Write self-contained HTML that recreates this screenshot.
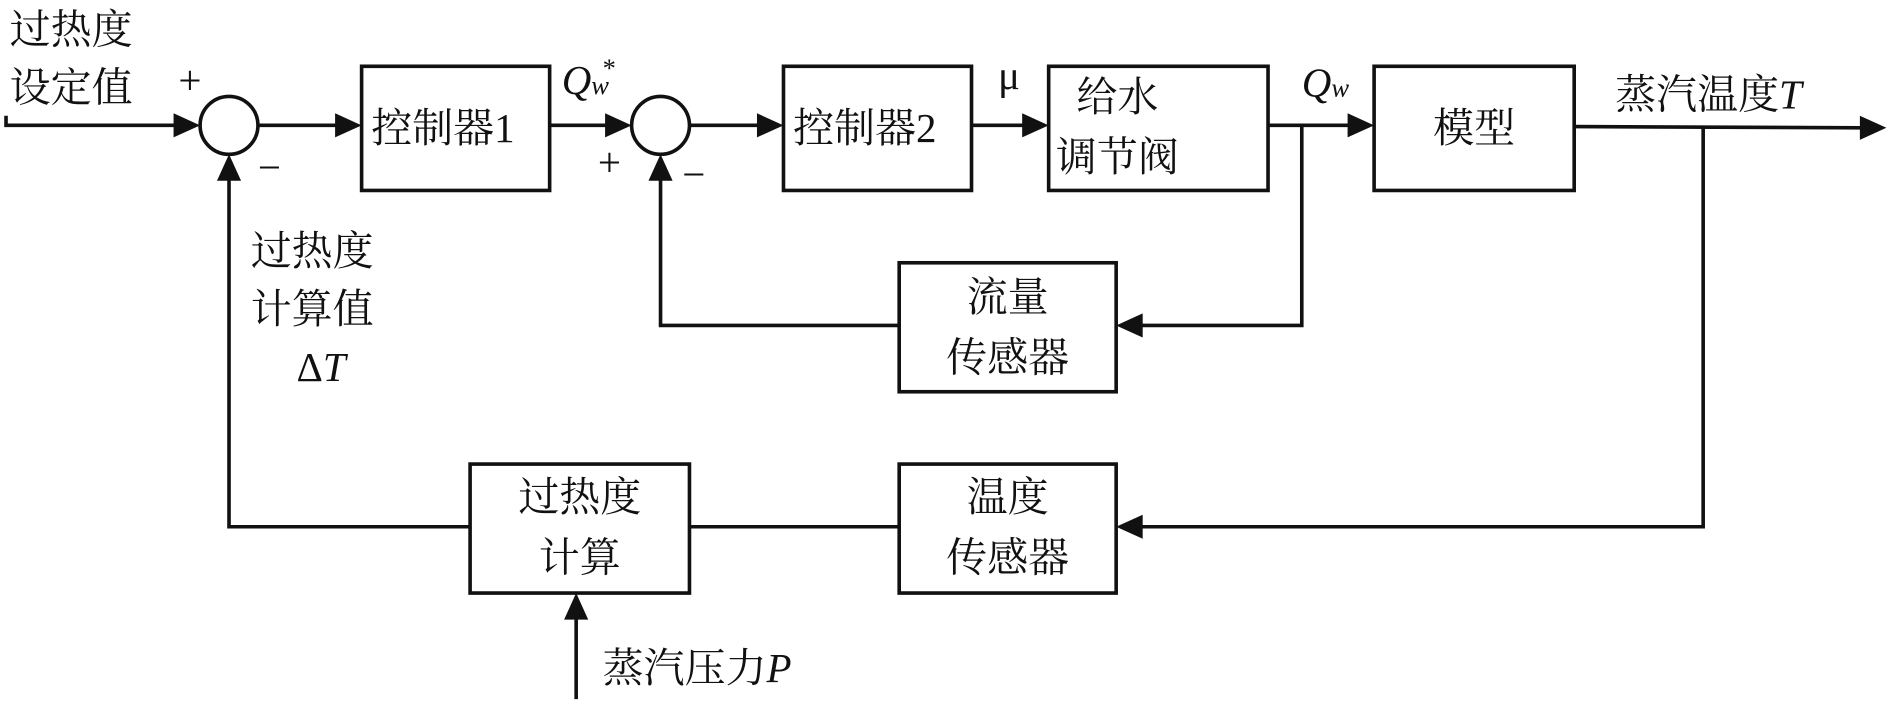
<!DOCTYPE html>
<html><head><meta charset="utf-8"><style>html,body{margin:0;padding:0;background:#fff}svg{display:block}</style></head><body>
<svg width="1890" height="716" viewBox="0 0 1568 594" preserveAspectRatio="none" xmlns="http://www.w3.org/2000/svg">
<defs><marker id="a" markerWidth="10" markerHeight="10" refX="9" refY="5" orient="auto" markerUnits="userSpaceOnUse"><path d="M0,0 L0,0"/></marker></defs>
<g fill="none" stroke="#111" stroke-width="3">
<circle cx="190" cy="104" r="24"/>
<circle cx="548" cy="104" r="24"/>
<rect x="300" y="55" width="156" height="103"/>
<rect x="650" y="55" width="156" height="103"/>
<rect x="870" y="55" width="182" height="103"/>
<rect x="1140" y="55" width="166" height="103"/>
<rect x="746" y="218" width="180" height="107"/>
<rect x="746" y="385" width="180" height="107"/>
<rect x="390" y="385" width="182" height="107"/>
<polyline points="5,96 5,104 148,104"/>
<line x1="214" y1="104" x2="282" y2="104"/>
<line x1="456" y1="104" x2="506" y2="104"/>
<line x1="572" y1="104" x2="632" y2="104"/>
<line x1="806" y1="104" x2="852" y2="104"/>
<line x1="1052" y1="104" x2="1122" y2="104"/>
<line x1="1306" y1="105" x2="1545" y2="106"/>
<polyline points="1080,104 1080,270 946,270"/>
<polyline points="746,270 548,270 548,148"/>
<polyline points="1413,105 1413,437 946,437"/>
<line x1="746" y1="437" x2="572" y2="437"/>
<polyline points="390,437 190,437 190,148"/>
<line x1="478" y1="580" x2="478" y2="512"/>
</g>
<g fill="#111">
<polygon points="166,104 144,94 144,114"/>
<polygon points="300,104 278,94 278,114"/>
<polygon points="524,104 502,94 502,114"/>
<polygon points="650,104 628,94 628,114"/>
<polygon points="870,104 848,94 848,114"/>
<polygon points="1140,104 1118,94 1118,114"/>
<polygon points="1565,106 1543,96 1543,116"/>
<polygon points="926,270 948,260 948,280"/>
<polygon points="926,437 948,427 948,447"/>
<polygon points="548,128 538,150 558,150"/>
<polygon points="190,128 180,150 200,150"/>
<polygon points="478,492 468,514 488,514"/>
</g>
<g font-family="Liberation Serif, 'Noto Serif CJK SC', serif" font-size="34" fill="#111">
<text x="8" y="36">过热度</text>
<text x="8" y="84">设定值</text>
<text x="148" y="78">+</text>
<text x="214" y="150">−</text>
<text x="208" y="220">过热度</text>
<text x="208" y="268">计算值</text>
<text x="246" y="316">Δ<tspan font-style="italic">T</tspan></text>
<text x="308" y="118">控制器1</text>
<text x="658" y="118">控制器2</text>
<text x="466" y="78" font-style="italic">Q<tspan font-size="22">w</tspan></text>
<text x="500" y="64" font-size="22">*</text>
<text x="496" y="146">+</text>
<text x="566" y="156">−</text>
<text x="828" y="74">μ</text>
<text x="927" y="92" text-anchor="middle">给水</text>
<text x="927" y="142" text-anchor="middle">调节阀</text>
<text x="1080" y="80" font-style="italic">Q<tspan font-size="22">w</tspan></text>
<text x="1223" y="118" text-anchor="middle">模型</text>
<text x="1340" y="90">蒸汽温度<tspan font-style="italic">T</tspan></text>
<text x="836" y="258" text-anchor="middle">流量</text>
<text x="836" y="308" text-anchor="middle">传感器</text>
<text x="836" y="424" text-anchor="middle">温度</text>
<text x="836" y="474" text-anchor="middle">传感器</text>
<text x="481" y="424" text-anchor="middle">过热度</text>
<text x="481" y="474" text-anchor="middle">计算</text>
<text x="500" y="566">蒸汽压力<tspan font-style="italic">P</tspan></text>
</g>
</svg>
</body></html>
